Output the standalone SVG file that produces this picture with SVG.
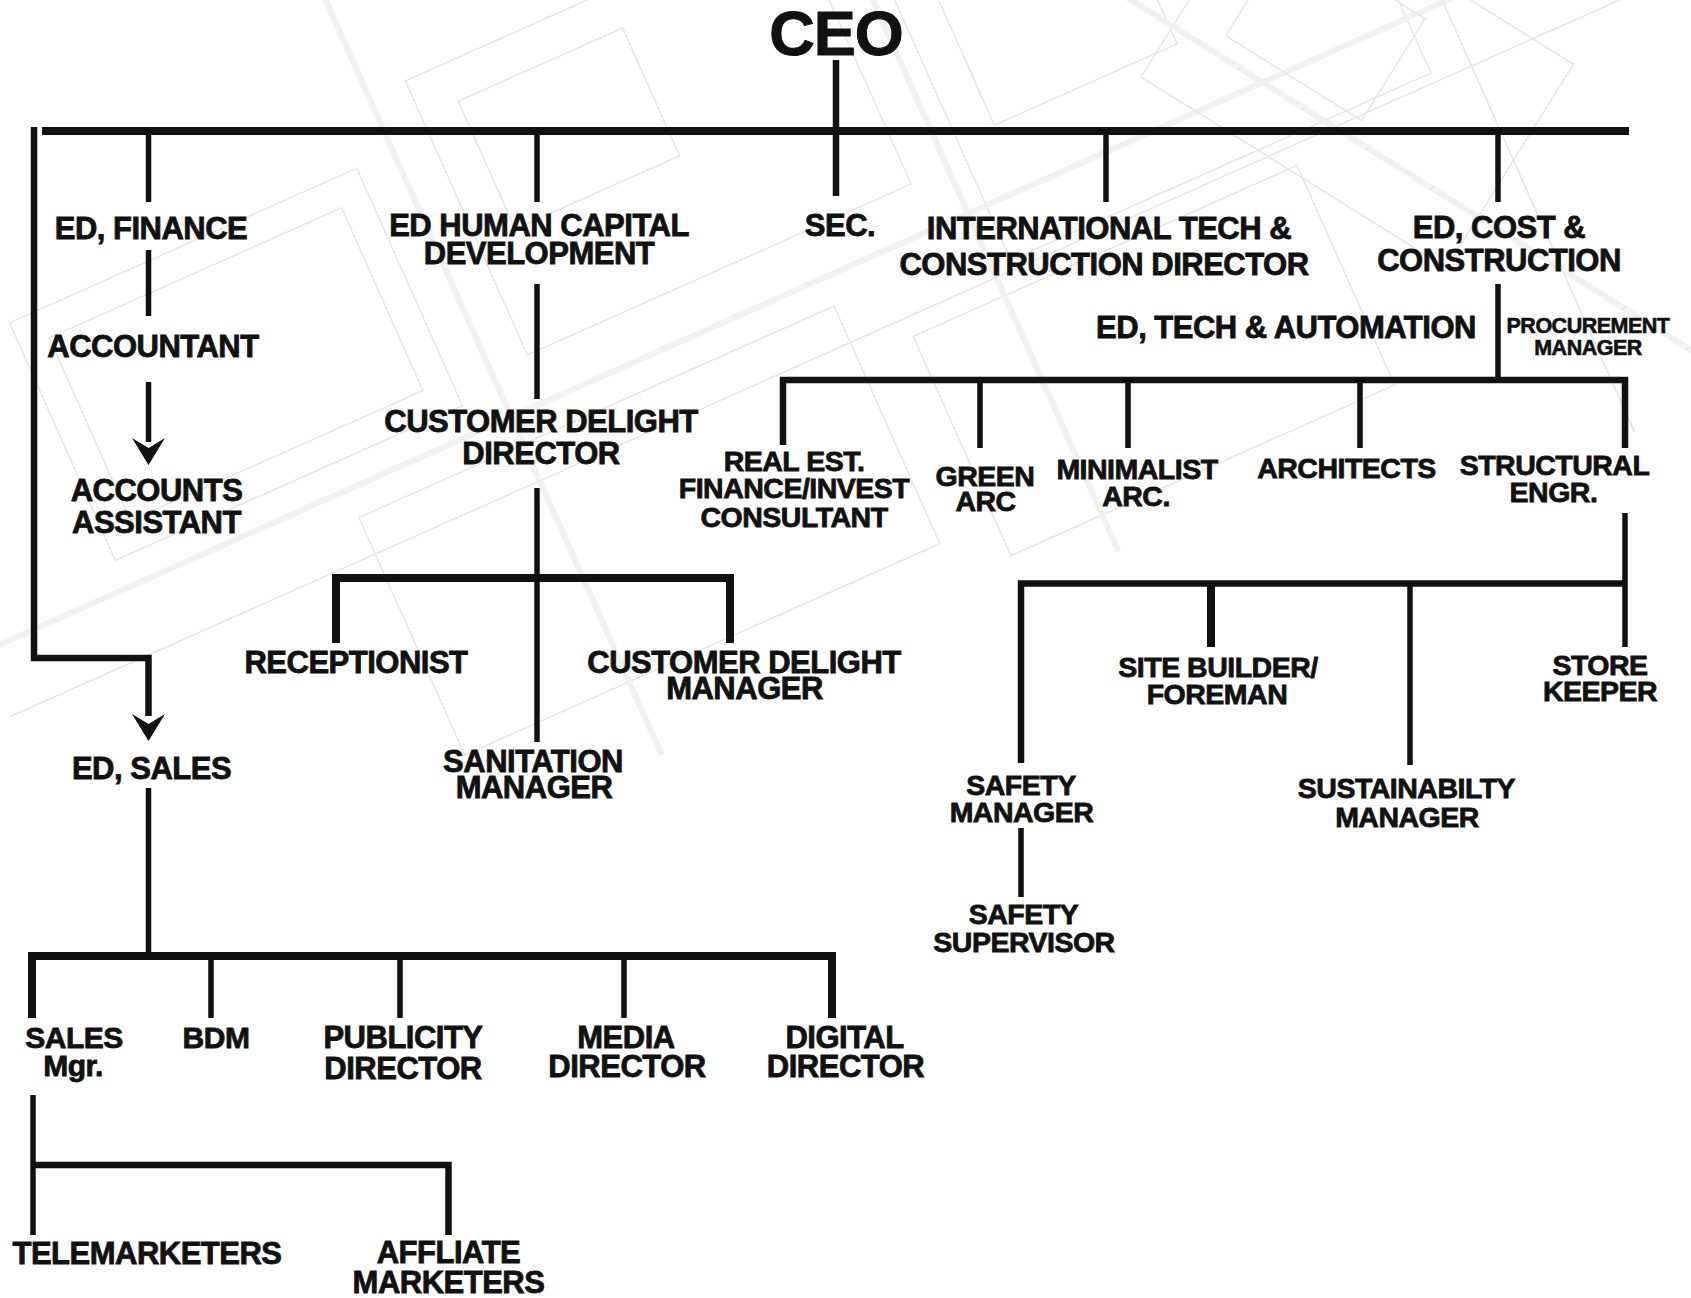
<svg xmlns="http://www.w3.org/2000/svg" width="1691" height="1298" viewBox="0 0 1691 1298">
<style>
  .t{font-family:"Liberation Sans",Arial,Helvetica,sans-serif;font-weight:bold;fill:#111;stroke:#111;stroke-width:0.8;letter-spacing:-0.5px;text-anchor:middle;font-size:31px}
  .s{font-size:28.5px}
  .xs{font-size:21.5px;stroke-width:0.6}
  .ceo{font-size:63px;stroke-width:1;letter-spacing:-1px}
  .c{stroke:#111;fill:none;stroke-linecap:butt;stroke-linejoin:miter}
  .w5{stroke-width:5.5}
  .w6{stroke-width:6.5}
  .w8{stroke-width:8}
  .bg{fill:none;stroke:#e6e6e6;stroke-width:1.5}
  .bgt{fill:none;stroke:#f1f1f1;stroke-width:6}
</style>
<defs>
  <path id="ah" d="M0,0 L-16.5,-27 L0,-17 L16.5,-27 Z" fill="#111"/>
</defs>
<rect width="1691" height="1298" fill="#ffffff"/>
<g id="background">
  <g transform="rotate(-24 700 300)">
    <rect class="bg" x="60" y="40" width="380" height="260"/>
    <rect class="bg" x="90" y="70" width="320" height="200"/>
    <rect class="bg" x="520" y="-20" width="420" height="300"/>
    <rect class="bg" x="560" y="20" width="180" height="140"/>
    <rect class="bg" x="1000" y="60" width="460" height="330"/>
    <rect class="bg" x="1040" y="100" width="200" height="160"/>
    <rect class="bg" x="300" y="360" width="520" height="260"/>
    <rect class="bg" x="880" y="420" width="420" height="240"/>
    <line class="bgt" x1="-100" y1="330" x2="1800" y2="330"/>
    <line class="bgt" x1="480" y1="-200" x2="480" y2="700"/>
    <line class="bgt" x1="980" y1="-200" x2="980" y2="700"/>
    <line class="bg" x1="-100" y1="400" x2="1800" y2="400"/>
    <line class="bg" x1="1500" y1="-200" x2="1500" y2="800"/>
  </g>
  <g transform="rotate(32 1300 200)">
    <rect class="bg" x="1100" y="-60" width="360" height="240"/>
    <rect class="bg" x="1150" y="-20" width="160" height="120"/>
    <line class="bgt" x1="900" y1="120" x2="1900" y2="120"/>
  </g>
</g>
<g id="connectors">
  <line class="c w8" x1="42" y1="131" x2="1629" y2="131"/>
  <line class="c w6" x1="836" y1="60" x2="836" y2="196"/>
  <path class="c w6" d="M34,127 V658 H148.5 V716"/>
  <use href="#ah" x="148.5" y="741"/>
  <line class="c w5" x1="148.5" y1="131" x2="148.5" y2="202"/>
  <line class="c w5" x1="148.5" y1="250" x2="148.5" y2="316"/>
  <line class="c w5" x1="148.5" y1="382" x2="148.5" y2="442"/>
  <use href="#ah" x="148.5" y="465"/>
  <line class="c w5" x1="537" y1="131" x2="537" y2="202"/>
  <line class="c w5" x1="537" y1="284" x2="537" y2="399"/>
  <line class="c w5" x1="537" y1="488" x2="537" y2="742"/>
  <path class="c w8" d="M336,643 V578 H730 V643"/>
  <line class="c w5" x1="1106" y1="131" x2="1106" y2="202"/>
  <line class="c w5" x1="1498" y1="131" x2="1498" y2="202"/>
  <line class="c w5" x1="1498" y1="284" x2="1498" y2="380"/>
  <path class="c w6" d="M783,445 V380 H1625 V448"/>
  <line class="c w5" x1="980" y1="380" x2="980" y2="448"/>
  <line class="c w5" x1="1128" y1="380" x2="1128" y2="448"/>
  <line class="c w5" x1="1360" y1="380" x2="1360" y2="448"/>
  <line class="c w5" x1="1625" y1="513" x2="1625" y2="647"/>
  <path class="c w6" d="M1021,763 V583.5 H1625"/>
  <line class="c w8" x1="1211" y1="583.5" x2="1211" y2="647"/>
  <line class="c w5" x1="1410" y1="583.5" x2="1410" y2="765"/>
  <line class="c w5" x1="1021" y1="828" x2="1021" y2="897"/>
  <line class="c w5" x1="148.5" y1="788" x2="148.5" y2="956"/>
  <path class="c w8" d="M32,1018 V956 H832 V1018"/>
  <line class="c w5" x1="211" y1="956" x2="211" y2="1018"/>
  <line class="c w5" x1="400" y1="956" x2="400" y2="1018"/>
  <line class="c w5" x1="624" y1="956" x2="624" y2="1018"/>
  <line class="c w5" x1="33" y1="1095" x2="33" y2="1235"/>
  <path class="c w6" d="M33,1165 H448.5 V1235"/>
</g>
<g id="n-ceo"><text class="t ceo" x="836" y="55">CEO</text></g>
<g id="n-ed-finance"><text class="t" x="151" y="239">ED, FINANCE</text></g>
<g id="n-accountant"><text class="t" x="153" y="357">ACCOUNTANT</text></g>
<g id="n-accounts-assistant"><text class="t" x="156.5" y="501">ACCOUNTS</text><text class="t" x="156.5" y="533">ASSISTANT</text></g>
<g id="n-ed-hcd"><text class="t" x="539" y="236">ED HUMAN CAPITAL</text><text class="t" x="539" y="264">DEVELOPMENT</text></g>
<g id="n-cd-director"><text class="t" x="541" y="432">CUSTOMER DELIGHT</text><text class="t" x="541" y="464">DIRECTOR</text></g>
<g id="n-sec"><text class="t" x="840" y="236">SEC.</text></g>
<g id="n-intl"><text class="t" x="1109" y="239">INTERNATIONAL TECH &amp;</text><text class="t" x="1104" y="275">CONSTRUCTION DIRECTOR</text></g>
<g id="n-ed-cost"><text class="t" x="1499" y="237.5">ED, COST &amp;</text><text class="t" x="1499" y="271">CONSTRUCTION</text></g>
<g id="n-ed-tech"><text class="t" x="1286" y="337.5">ED, TECH &amp; AUTOMATION</text></g>
<g id="n-procurement"><text class="t xs" x="1588" y="333">PROCUREMENT</text><text class="t xs" x="1588" y="355">MANAGER</text></g>
<g id="n-real-est"><text class="t s" x="794" y="471">REAL EST.</text><text class="t s" x="794" y="498">FINANCE/INVEST</text><text class="t s" x="794" y="527">CONSULTANT</text></g>
<g id="n-green"><text class="t s" x="985" y="486">GREEN</text><text class="t s" x="985.5" y="511">ARC</text></g>
<g id="n-minimalist"><text class="t s" x="1137" y="478.5">MINIMALIST</text><text class="t s" x="1136" y="506">ARC.</text></g>
<g id="n-architects"><text class="t s" x="1346.5" y="477.5">ARCHITECTS</text></g>
<g id="n-structural"><text class="t s" x="1554.5" y="475">STRUCTURAL</text><text class="t s" x="1553.5" y="502">ENGR.</text></g>
<g id="n-receptionist"><text class="t" x="356" y="673">RECEPTIONIST</text></g>
<g id="n-cd-manager"><text class="t" x="744" y="673">CUSTOMER DELIGHT</text><text class="t" x="744.5" y="699">MANAGER</text></g>
<g id="n-sanitation"><text class="t" x="533" y="771.5">SANITATION</text><text class="t" x="534" y="798">MANAGER</text></g>
<g id="n-ed-sales"><text class="t" x="151.5" y="779">ED, SALES</text></g>
<g id="n-site-builder"><text class="t s" x="1218" y="676.5">SITE BUILDER/</text><text class="t s" x="1217" y="704">FOREMAN</text></g>
<g id="n-store-keeper"><text class="t s" x="1600" y="675">STORE</text><text class="t s" x="1600" y="701">KEEPER</text></g>
<g id="n-safety-manager"><text class="t s" x="1021" y="795">SAFETY</text><text class="t s" x="1021.5" y="821.5">MANAGER</text></g>
<g id="n-sustainability"><text class="t s" x="1406.5" y="798">SUSTAINABILTY</text><text class="t s" x="1407" y="826.5">MANAGER</text></g>
<g id="n-safety-supervisor"><text class="t s" x="1023.5" y="924">SAFETY</text><text class="t s" x="1024" y="951.5">SUPERVISOR</text></g>
<g id="n-sales-mgr"><text class="t" x="74" y="1048" style="font-size:30px">SALES</text><text class="t" x="73" y="1076" style="font-size:30px">Mgr.</text></g>
<g id="n-bdm"><text class="t" x="216" y="1047.5" style="font-size:30px">BDM</text></g>
<g id="n-publicity"><text class="t" x="403" y="1048">PUBLICITY</text><text class="t" x="403" y="1079">DIRECTOR</text></g>
<g id="n-media"><text class="t" x="626" y="1048">MEDIA</text><text class="t" x="627" y="1077">DIRECTOR</text></g>
<g id="n-digital"><text class="t" x="844.5" y="1048">DIGITAL</text><text class="t" x="845.5" y="1077">DIRECTOR</text></g>
<g id="n-telemarketers"><text class="t" x="147" y="1264">TELEMARKETERS</text></g>
<g id="n-affiliate"><text class="t" x="448.5" y="1263">AFFLIATE</text><text class="t" x="448.5" y="1292.5">MARKETERS</text></g>
</svg>
